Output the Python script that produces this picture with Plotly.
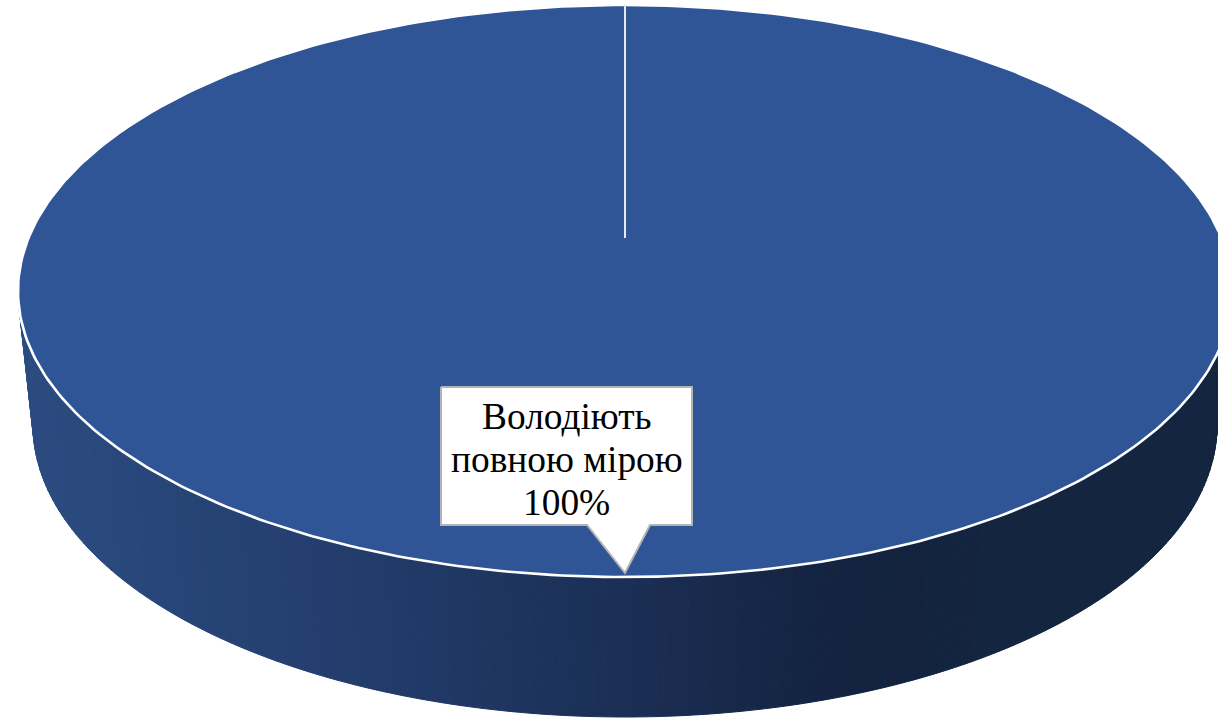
import numpy as np
import plotly.graph_objects as go

# Data
categories = ["Володіють повною мірою"]
values = [100]
label_lines = ["Володіють", "повною мірою", "100%"]

# Style / geometry
W, H = 1218, 718
TOP_COLOR = "#2F5597"
CX = 625
TOP_CY, TOP_RX, TOP_RY = 291, 607, 286
BOT_CY, BOT_RX, BOT_RY = 425, 592, 292
HUB_Y = 238
GRAD_X = [0, 40, 300, 625, 850, 1000, 1218]
GRAD_RGB = [(44, 77, 130), (43, 75, 128), (36, 63, 112), (27, 47, 85), (18, 34, 63), (20, 37, 64), (20, 37, 64)]

share = values[0] / sum(values)
sweep = 2 * np.pi * share

fig = go.Figure()

# Side wall: vertical-gradient bands between the top rim and the lower rim
edges = np.linspace(0, np.pi, 181)
for a0, a1 in zip(edges[:-1], edges[1:]):
    sub = np.linspace(a0, a1, 3)
    xt = CX - TOP_RX * np.cos(sub)
    yt = TOP_CY + TOP_RY * np.sin(sub)
    xb = CX - BOT_RX * np.cos(sub)
    yb = BOT_CY + BOT_RY * np.sin(sub)
    mid = (xt.mean() + xb.mean()) / 2
    rgb = [int(round(np.interp(mid, GRAD_X, [c[i] for c in GRAD_RGB]))) for i in range(3)]
    col = f"rgb({rgb[0]},{rgb[1]},{rgb[2]})"
    fig.add_trace(go.Scatter(
        x=np.r_[xt, xb[::-1], xt[0]], y=np.r_[yt, yb[::-1], yt[0]],
        mode="lines", fill="toself", fillcolor=col,
        line=dict(color=col, width=1), hoverinfo="skip", showlegend=False))

# Top face: the single slice, swept from twelve o'clock
theta = np.linspace(0, sweep, 361)
fig.add_trace(go.Scatter(
    x=CX + TOP_RX * np.sin(theta), y=TOP_CY - TOP_RY * np.cos(theta),
    mode="lines", fill="toself", fillcolor=TOP_COLOR,
    line=dict(color="#FFFFFF", width=2.6), name=categories[0],
    hoverinfo="name", showlegend=False))

# Slice seam
fig.add_trace(go.Scatter(
    x=[CX, CX], y=[TOP_CY - TOP_RY, HUB_Y], mode="lines",
    line=dict(color="#E4E9F2", width=2), hoverinfo="skip", showlegend=False))

# Callout
box_x = [441, 692, 692, 650, 625, 587, 441, 441]
box_y = [387, 387, 525, 525, 573, 525, 525, 387]
fig.add_trace(go.Scatter(
    x=box_x, y=box_y, mode="lines", fill="toself", fillcolor="#FFFFFF",
    line=dict(color="#B4B4B4", width=2), hoverinfo="skip", showlegend=False))

for line, y in zip(label_lines, [416, 459, 502]):
    fig.add_annotation(
        x=566.5, y=y, text=line, showarrow=False, xanchor="center", yanchor="middle",
        font=dict(family="Liberation Serif", size=37.4, color="#000000"))

fig.update_layout(
    width=W, height=H, margin=dict(l=0, r=0, t=0, b=0),
    paper_bgcolor="#FFFFFF", plot_bgcolor="#FFFFFF",
    xaxis=dict(range=[0, W], visible=False, fixedrange=True),
    yaxis=dict(range=[H, 0], visible=False, fixedrange=True),
    showlegend=False)

fig.write_html(
    "out.html", config=dict(displayModeBar=False),
    post_script="document.body.style.margin='0';document.body.style.overflow='hidden';")
